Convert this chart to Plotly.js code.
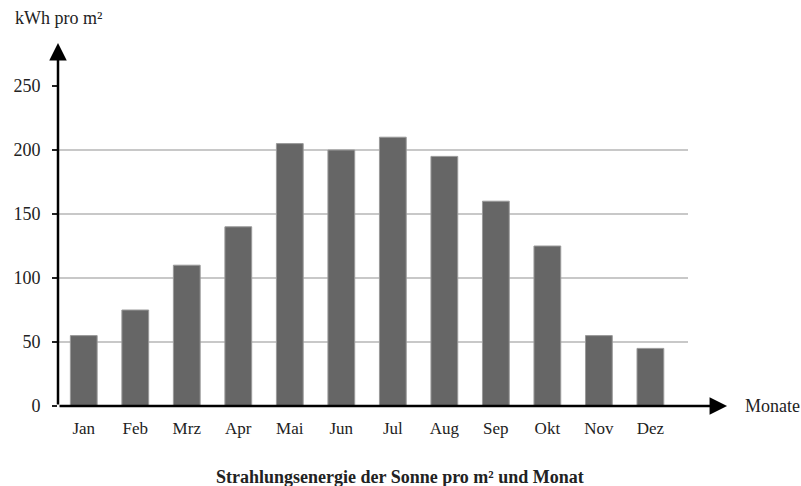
<!DOCTYPE html>
<html><head><meta charset="utf-8">
<script src="https://cdn.plot.ly/plotly-3.0.1.min.js"></script>
<style>html,body{margin:0;padding:0;background:#fff}#c{width:801px;height:486px}</style>
</head><body><div id="c"></div>
<script>
var months = ["Jan","Feb","Mrz","Apr","Mai","Jun","Jul","Aug","Sep","Okt","Nov","Dez"];
var energy = [55, 75, 110, 140, 205, 200, 210, 195, 160, 125, 55, 45];
var yTicks = [0, 50, 100, 150, 200, 250];
var font = "Liberation Serif, Times New Roman, serif";

var trace = {
  type: "bar", x: months, y: energy,
  marker: {color: "#666666", line: {color: "#9a9a9a", width: 1}},
  hoverinfo: "none"
};
var layout = {
  width: 801, height: 486,
  margin: {l: 58, r: 113, t: 86, b: 80},
  paper_bgcolor: "#fff", plot_bgcolor: "#fff",
  bargap: 0.48,
  showlegend: false,
  xaxis: {
    type: "category", range: [-0.5, 11.73],
    showgrid: false, zeroline: false, showline: false,
    ticks: "", tickfont: {family: font, size: 17, color: "#222"},
    ticklabelstandoff: 10
  },
  yaxis: {
    range: [0, 250], tickvals: yTicks, ticktext: yTicks.map(String),
    showgrid: true, gridcolor: "#c8c8c8", gridwidth: 1.5,
    zeroline: false, showline: false,
    ticks: "outside", ticklen: 5, tickcolor: "#222", tickwidth: 1.5,
    tickfont: {family: font, size: 18, color: "#222"},
    ticklabelstandoff: 8
  },
  annotations: [
    {xref: "paper", yref: "paper", axref: "paper", ayref: "paper",
     x: 1.062, y: 0, ax: 0, ay: 0, showarrow: true,
     arrowhead: 2, arrowsize: 1.4, arrowwidth: 2.5, arrowcolor: "#000", text: ""},
    {xref: "paper", yref: "paper", axref: "paper", ayref: "paper",
     x: 0, y: 1.134, ax: 0, ay: 0, showarrow: true,
     arrowhead: 2, arrowsize: 1.4, arrowwidth: 2.5, arrowcolor: "#000", text: ""},
    {xref: "paper", yref: "paper", x: 1.087, y: 0, xanchor: "left", yanchor: "middle",
     showarrow: false, text: "Monate", font: {family: font, size: 18, color: "#222"}},
    {xref: "paper", yref: "paper", x: -0.0714, y: 1.2125, xanchor: "left", yanchor: "middle",
     showarrow: false, text: "kWh pro m²", font: {family: font, size: 18, color: "#222"}},
    {xref: "paper", yref: "paper", x: 0.543, y: -0.222, xanchor: "center", yanchor: "middle",
     showarrow: false, text: "<b>Strahlungsenergie der Sonne pro m² und Monat</b>",
     font: {family: font, size: 18, color: "#222"}}
  ]
};
Plotly.newPlot("c", [trace], layout, {staticPlot: true});
</script></body></html>
